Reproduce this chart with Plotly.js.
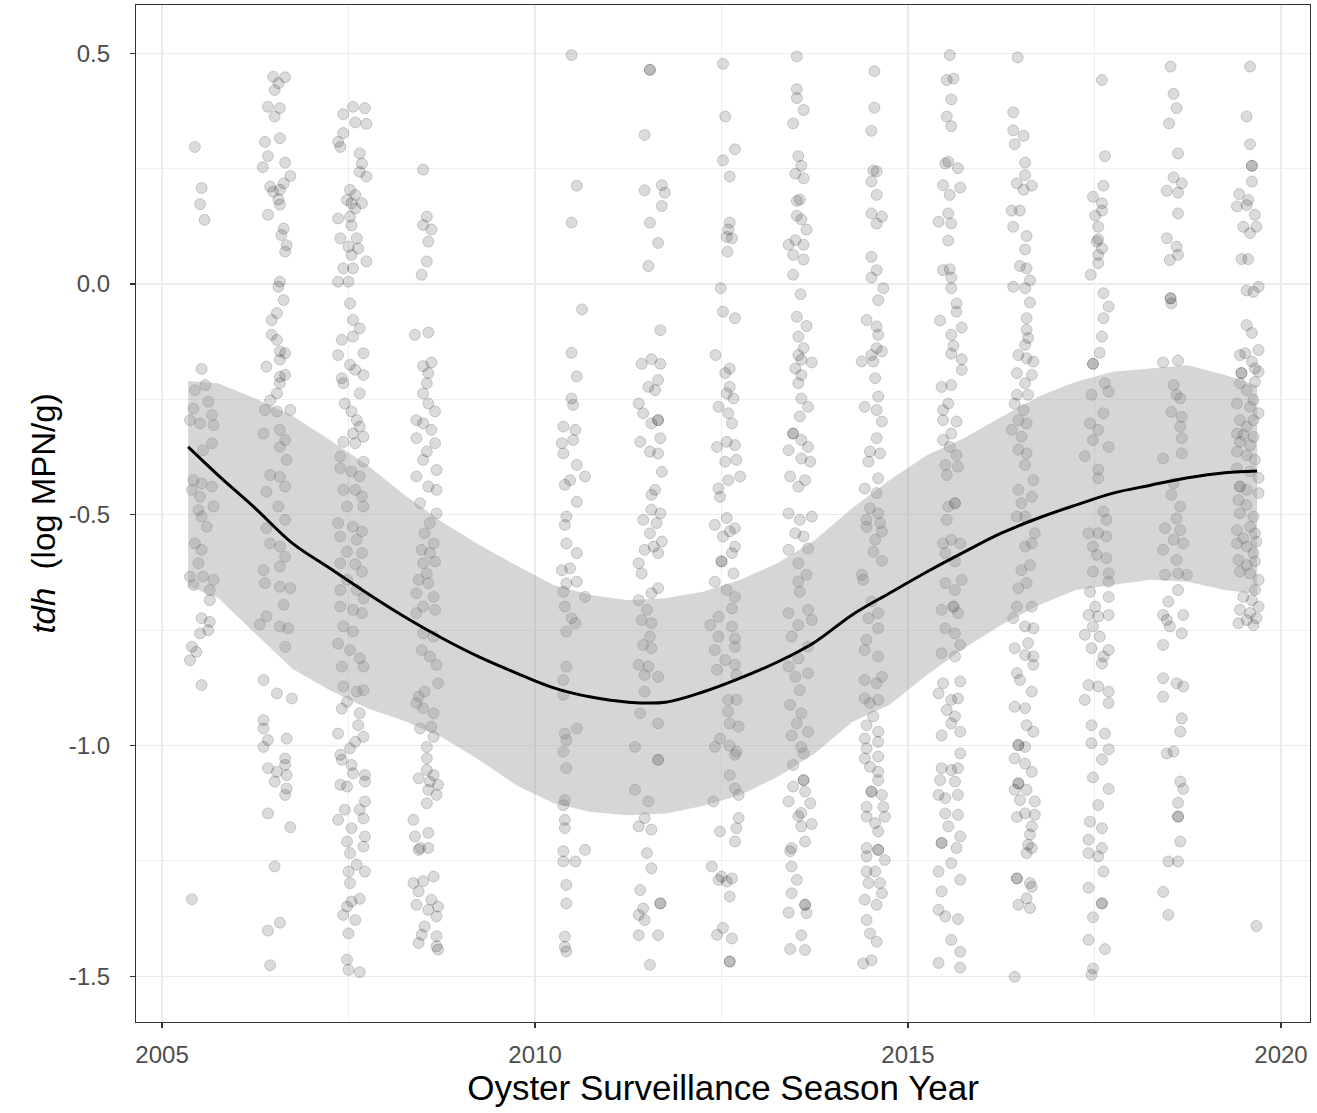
<!DOCTYPE html>
<html>
<head>
<meta charset="utf-8">
<script src="https://cdn.plot.ly/plotly-3.0.1.min.js"></script>
<style>html,body{margin:0;padding:0;background:#fff;}#chart{width:1317px;height:1113px;}</style>
</head>
<body>
<div id="chart"></div>
<script>
// Sampling seasons (year) and per-season observations: [offset within season year, tdh log MPN/g]
const seasons = [2005, 2006, 2007, 2008, 2010, 2011, 2012, 2013, 2014, 2015, 2016, 2017, 2018, 2019];

const pts2005 = [[.44,.297],[.53,.208],[.51,.173],[.57,.139],[.53,-.184],
[.44,-.23],[.58,-.219],[.62,-.255],[.42,-.27],[.375,-.295],[.51,-.302],[.67,-.284],[.69,-.306],[.67,-.345],[.55,-.36],
[.42,-.425],[.53,-.432],[.67,-.439],[.40,-.446],[.51,-.461],[.69,-.482],[.49,-.49],[.53,-.504],[.60,-.526],[.44,-.562],
[.53,-.576],[.49,-.605],[.375,-.634],[.55,-.634],[.69,-.641],[.42,-.652],[.64,-.663],[.64,-.685],[.53,-.724],[.64,-.732],
[.51,-.757],[.62,-.75],[.40,-.786],[.46,-.797],[.375,-.815],[.53,-.869],[.40,-1.333]];

const pts2006 = [[.49,.449],[.65,.448],[.56,.435],[.51,.42],[.42,.384],[.58,.381],[.51,.363],[.38,.308],[.58,.316],[.42,.277],
[.65,.263],[.35,.253],[.72,.234],[.45,.211],[.63,.218],[.49,.2],[.58,.204],[.56,.183],[.42,.15],[.58,.172],[.63,.12],[.60,.106],
[.67,.084],[.65,.07],[.58,.005],[.56,-.006],[.63,-.035],[.54,-.063],[.47,-.078],[.47,-.11],[.54,-.121],[.58,-.146],[.65,-.15],
[.40,-.179],[.58,-.164],[.65,-.197],[.58,-.201],
[.58,-.215],[.54,-.237],[.45,-.252],[.38,-.273],[.54,-.276],[.72,-.273],[.58,-.316],[.36,-.324],[.65,-.338],[.58,-.353],
[.67,-.381],[.45,-.414],[.58,-.418],[.40,-.45],[.65,-.439],[.56,-.482],[.65,-.511],[.40,-.529],[.45,-.562],[.58,-.569],
[.65,-.591],[.36,-.62],[.58,-.612],[.38,-.648],[.58,-.656],[.72,-.659],[.63,-.695],[.40,-.72],[.31,-.738],[.58,-.742],
[.69,-.746],[.65,-.786],[.36,-.858],[.54,-.887],[.74,-.898],
[.36,-.945],[.36,-.963],[.42,-.988],[.67,-.985],[.36,-1.003],[.65,-1.028],[.65,-1.042],[.42,-1.049],[.54,-1.057],[.67,-1.064],
[.51,-1.078],[.67,-1.093],[.65,-1.107],[.42,-1.147],[.72,-1.177],[.51,-1.262],[.58,-1.384],[.42,-1.401],[.45,-1.476]];

const pts2007 = [[.56,.384],[.72,.381],[.43,.368],[.59,.35],[.74,.347],[.43,.327],[.36,.308],[.39,.297],[.65,.283],[.68,.261],
[.65,.243],[.74,.233],[.52,.204],[.59,.193],[.48,.182],[.54,.175],[.68,.175],[.59,.164],[.36,.142],[.52,.146],[.54,.127],
[.39,.099],[.61,.099],[.50,.081],[.63,.077],[.54,.063],[.74,.049],[.43,.034],[.56,.034],[.36,.005],[.50,.005],[.52,-.042],
[.56,-.078],[.65,-.096],[.41,-.121],[.56,-.114],[.36,-.154],[.70,-.15],[.52,-.175],[.59,-.186],[.70,-.197],[.41,-.204],
[.43,-.215],[.65,-.237],[.45,-.259],[.54,-.276],[.61,-.295],[.65,-.309],[.56,-.324],[.70,-.331],[.43,-.342],[.59,-.345],
[.39,-.374],[.70,-.385],[.39,-.399],[.54,-.406],[.65,-.417],[.43,-.446],[.59,-.446],[.68,-.46],[.48,-.482],[.70,-.482],
[.36,-.518],[.56,-.526],[.68,-.536],[.39,-.547],[.61,-.554],[.48,-.58],[.68,-.583],[.39,-.605],[.59,-.607],[.68,-.623],
[.48,-.641],[.39,-.663],[.61,-.663],[.70,-.681],[.39,-.699],[.56,-.706],[.68,-.713],[.43,-.742],[.56,-.753],[.36,-.779],
[.52,-.793],[.65,-.811],[.41,-.829],[.70,-.829],[.43,-.872],[.61,-.883],[.70,-.88],[.48,-.905],[.41,-.92],[.65,-.93],
[.63,-.956],[.36,-.974],[.70,-.981],[.59,-.992],[.52,-1.006],[.39,-1.02],[.41,-1.031],[.54,-1.042],[.56,-1.06],[.72,-1.064],
[.72,-1.078],[.39,-1.085],[.48,-1.089],[.72,-1.121],[.65,-1.139],[.45,-1.139],[.70,-1.158],[.36,-1.161],[.54,-1.179],
[.72,-1.197],[.48,-1.208],[.70,-1.219],[.52,-1.233],[.61,-1.258],[.50,-1.273],[.72,-1.273],[.52,-1.298],[.54,-1.338],
[.65,-1.332],[.48,-1.349],[.43,-1.367],[.59,-1.378],[.50,-1.407],[.48,-1.464],[.50,-1.486],[.65,-1.491]];

const pts2008 = [[.50,.248],[.55,.146],[.50,.128],[.61,.118],[.57,.092],[.55,.049],[.48,.02],[.39,-.11],[.57,-.105],[.50,-.178],
[.61,-.17],[.57,-.193],
[.55,-.215],[.50,-.237],[.57,-.259],[.66,-.276],[.41,-.295],[.50,-.302],[.61,-.316],[.41,-.334],[.66,-.345],[.55,-.363],
[.50,-.381],[.68,-.403],[.41,-.417],[.57,-.439],[.68,-.446],[.46,-.475],[.68,-.497],[.59,-.518],[.52,-.54],[.64,-.562],
[.48,-.576],[.59,-.583],[.50,-.605],[.66,-.601],[.55,-.627],[.44,-.641],[.57,-.648],[.41,-.67],[.64,-.678],[.50,-.699],
[.41,-.713],[.66,-.706],[.50,-.757],[.64,-.764],[.48,-.793],[.59,-.807],[.68,-.825],[.70,-.865],[.52,-.883],[.44,-.894],
[.41,-.908],[.50,-.919],[.64,-.93],
[.61,-.959],[.46,-.963],[.64,-.981],[.55,-1.003],[.55,-1.028],[.55,-1.053],[.64,-1.064],[.44,-1.071],[.59,-1.078],[.70,-1.085],
[.57,-1.096],[.68,-1.107],[.55,-1.125],[.37,-1.161],[.39,-1.197],[.57,-1.189],[.46,-1.222],[.57,-1.222],[.44,-1.226],
[.37,-1.298],[.50,-1.294],[.64,-1.284],[.44,-1.316],[.61,-1.334],[.41,-1.345],[.70,-1.349],[.57,-1.356],[.68,-1.37],
[.52,-1.392],[.48,-1.41],[.68,-1.413],[.44,-1.428],[.68,-1.435],[.70,-1.442]];

const pts2010 = [[.49,.496],[.56,.213],[.49,.133],[.63,-.055],[.49,-.149],[.56,-.2],
[.49,-.248],[.51,-.262],[.38,-.309],[.54,-.316],[.51,-.338],[.36,-.345],[.38,-.367],[.56,-.392],[.67,-.417],[.47,-.425],
[.40,-.435],[.56,-.472],[.42,-.504],[.40,-.522],[.42,-.562],[.56,-.583],[.36,-.62],[.47,-.616],[.56,-.645],[.42,-.649],
[.38,-.667],[.67,-.678],[.40,-.699],[.49,-.724],[.54,-.735],[.42,-.753],[.42,-.829],[.38,-.858],[.38,-.89],
[.56,-.963],[.40,-.974],[.42,-.988],[.38,-1.013],[.42,-1.049],[.40,-1.118],[.38,-1.129],[.40,-1.161],[.40,-1.179],
[.38,-1.229],[.67,-1.226],[.38,-1.251],[.54,-1.251],[.42,-1.302],[.42,-1.342],[.40,-1.414],[.40,-1.436],[.42,-1.446]];

const pts2011 = [[.54,.464],[.54,.464],[.47,.323],[.70,.214],[.47,.203],[.74,.198],[.70,.169],[.54,.133],[.65,.089],[.52,.039],
[.68,-.1],[.56,-.163],[.43,-.173],[.68,-.173],[.65,-.208],
[.52,-.223],[.61,-.23],[.39,-.259],[.45,-.28],[.65,-.295],[.65,-.295],[.56,-.302],[.68,-.334],[.41,-.342],[.54,-.363],
[.65,-.367],[.70,-.407],[.61,-.446],[.56,-.457],[.56,-.489],[.68,-.497],[.45,-.511],[.63,-.518],[.54,-.54],[.70,-.558],
[.59,-.569],[.47,-.576],[.65,-.583],[.39,-.605],[.43,-.627],[.65,-.659],[.56,-.67],[.39,-.685],[.50,-.706],[.43,-.728],
[.56,-.735],[.54,-.764],[.45,-.782],[.56,-.789],[.39,-.825],[.52,-.829],[.47,-.847],[.65,-.851],[.47,-.883],[.41,-.93],
[.65,-.952],[.34,-1.003],[.65,-1.031],[.65,-1.031],[.34,-1.096],[.52,-1.121],[.47,-1.157],[.39,-1.175],[.56,-1.182],
[.50,-1.233],[.56,-1.266],[.41,-1.313],[.68,-1.342],[.68,-1.342],[.45,-1.353],[.39,-1.367],[.47,-1.378],[.39,-1.411],
[.65,-1.411],[.54,-1.475]];

const pts2012 = [[.52,.477],[.55,.363],[.68,.292],[.52,.268],[.61,.233],[.61,.133],[.59,.118],[.64,.099],[.57,.102],[.58,.07],
[.49,-.009],[.52,-.06],[.68,-.074],[.42,-.154],[.61,-.183],[.55,-.193],
[.61,-.223],[.57,-.237],[.66,-.248],[.46,-.266],[.59,-.28],[.64,-.302],[.57,-.342],[.44,-.353],[.68,-.349],[.55,-.385],
[.70,-.381],[.59,-.425],[.75,-.417],[.46,-.443],[.48,-.461],[.41,-.522],[.57,-.507],[.68,-.529],[.61,-.536],[.52,-.547],
[.68,-.569],[.64,-.583],[.50,-.601],[.50,-.601],[.66,-.627],[.41,-.645],[.57,-.663],[.68,-.678],[.64,-.703],[.46,-.721],
[.35,-.739],[.64,-.742],[.46,-.764],[.68,-.768],[.41,-.793],[.68,-.786],[.55,-.815],[.68,-.825],[.44,-.836],[.70,-.847],
[.59,-.901],[.70,-.901],[.59,-.926],
[.61,-.952],[.73,-.959],[.48,-.985],[.41,-1.003],[.61,-1.0],[.70,-1.013],[.68,-1.02],[.61,-1.064],[.68,-1.093],[.73,-1.107],
[.39,-1.121],[.73,-1.157],[.48,-1.186],[.70,-1.179],[.68,-1.208],[.37,-1.262],[.50,-1.284],[.64,-1.288],[.46,-1.291],
[.57,-1.295],[.61,-1.327],[.52,-1.395],[.44,-1.41],[.64,-1.418],[.61,-1.468],[.61,-1.468]];

const pts2013 = [[.51,.493],[.51,.422],[.51,.403],[.60,.377],[.46,.348],[.53,.277],[.57,.256],[.49,.239],[.60,.229],[.55,.183],
[.51,.18],[.51,.148],[.57,.14],[.64,.118],[.49,.095],[.40,.085],[.60,.085],[.46,.063],[.60,.053],[.46,.02],[.56,-.022],
[.51,-.071],[.64,-.091],[.53,-.114],[.60,-.139],[.53,-.154],[.57,-.164],[.71,-.17],[.49,-.183],[.57,-.197],
[.53,-.215],[.57,-.248],[.66,-.266],[.55,-.287],[.46,-.324],[.46,-.324],[.57,-.338],[.66,-.353],[.40,-.36],[.57,-.378],
[.69,-.385],[.42,-.417],[.62,-.425],[.53,-.439],[.40,-.497],[.55,-.511],[.71,-.504],[.49,-.54],[.60,-.547],[.40,-.576],
[.66,-.573],[.53,-.605],[.64,-.63],[.53,-.645],[.55,-.667],[.40,-.713],[.66,-.706],[.53,-.739],[.71,-.728],[.44,-.764],
[.66,-.786],[.53,-.811],[.40,-.829],[.49,-.851],[.66,-.843],[.55,-.88],[.42,-.912],[.57,-.93],
[.51,-.952],[.66,-.97],[.44,-.978],[.57,-1.003],[.60,-1.017],[.46,-1.042],[.60,-1.075],[.60,-1.075],[.46,-1.089],[.62,-1.1],
[.40,-1.121],[.69,-1.125],[.57,-1.146],[.53,-1.153],[.71,-1.17],[.57,-1.175],[.62,-1.208],[.44,-1.222],[.42,-1.229],
[.44,-1.262],[.51,-1.291],[.44,-1.32],[.62,-1.345],[.62,-1.345],[.64,-1.363],[.40,-1.362],[.57,-1.411],[.42,-1.441],[.62,-1.443]];

const pts2014 = [[.55,.461],[.55,.382],[.51,.332],[.535,.246],[.58,.244],[.51,.222],[.58,.193],[.51,.153],[.65,.146],[.58,.131],
[.51,.059],[.58,.03],[.51,.014],[.67,-.009],[.60,-.035],[.445,-.078],[.58,-.092],[.60,-.11],[.58,-.139],[.65,-.146],
[.51,-.154],[.38,-.168],[.535,-.168],[.56,-.204],
[.60,-.244],[.42,-.266],[.58,-.273],[.65,-.298],[.58,-.334],[.49,-.363],[.625,-.367],[.47,-.385],[.60,-.421],[.42,-.443],
[.58,-.453],[.49,-.486],[.60,-.497],[.445,-.511],[.625,-.518],[.445,-.526],[.65,-.536],[.56,-.554],[.535,-.58],[.65,-.6],
[.38,-.63],[.40,-.641],[.51,-.688],[.60,-.713],[.47,-.724],[.60,-.746],[.445,-.771],[.42,-.793],[.60,-.807],[.42,-.858],
[.65,-.851],[.58,-.865],[.42,-.898],[.60,-.901],[.49,-.908],[.535,-.937],
[.445,-.956],[.60,-.97],[.42,-.985],[.60,-.992],[.445,-1.006],[.42,-1.028],[.60,-1.024],[.49,-1.046],[.60,-1.057],
[.60,-1.075],[.51,-1.1],[.51,-1.1],[.65,-1.107],[.445,-1.133],[.67,-1.133],[.445,-1.154],[.69,-1.154],[.56,-1.168],
[.60,-1.186],[.445,-1.222],[.60,-1.226],[.60,-1.226],[.445,-1.24],[.69,-1.248],[.445,-1.273],[.56,-1.273],[.47,-1.298],
[.625,-1.298],[.65,-1.32],[.42,-1.334],[.58,-1.345],[.445,-1.378],[.49,-1.407],[.58,-1.425],[.40,-1.472],[.51,-1.465]];

const pts2015 = [[.56,.496],[.52,.442],[.61,.445],[.58,.4],[.52,.363],[.58,.342],[.50,.261],[.54,.265],[.67,.251],[.47,.214],
[.70,.209],[.56,.193],[.54,.153],[.41,.135],[.58,.131],[.54,.094],[.47,.03],[.56,.032],[.58,.014],[.58,-.009],[.65,-.042],
[.65,-.06],[.43,-.079],[.72,-.094],[.58,-.11],[.61,-.134],[.58,-.151],[.72,-.163],[.72,-.186],
[.45,-.223],[.58,-.219],[.54,-.259],[.47,-.273],[.47,-.295],[.65,-.298],[.58,-.324],[.47,-.338],[.56,-.353],[.65,-.371],
[.50,-.392],[.67,-.396],[.52,-.414],[.63,-.475],[.63,-.475],[.54,-.482],[.52,-.511],[.47,-.562],[.58,-.554],[.70,-.562],
[.50,-.583],[.63,-.601],[.72,-.641],[.50,-.648],[.63,-.663],[.61,-.699],[.61,-.699],[.45,-.706],[.67,-.713],[.50,-.746],
[.63,-.757],[.70,-.782],[.45,-.8],[.63,-.807],[.70,-.861],[.47,-.865],[.41,-.887],[.58,-.901],[.67,-.898],[.52,-.923],[.63,-.937],
[.58,-.952],[.70,-.97],[.45,-.978],[.70,-1.017],[.45,-1.049],[.67,-1.049],[.58,-1.053],[.43,-1.075],[.63,-1.078],[.41,-1.107],
[.50,-1.114],[.67,-1.107],[.50,-1.147],[.67,-1.15],[.54,-1.175],[.70,-1.197],[.45,-1.211],[.45,-1.211],[.65,-1.222],
[.58,-1.255],[.41,-1.273],[.70,-1.291],[.45,-1.316],[.41,-1.356],[.50,-1.37],[.67,-1.376],[.58,-1.421],[.70,-1.447],
[.41,-1.471],[.70,-1.481]];

const pts2016 = [[.47,.491],[.41,.372],[.41,.333],[.55,.321],[.43,.303],[.57,.263],[.57,.236],[.46,.218],[.66,.213],[.55,.204],
[.39,.159],[.50,.159],[.41,.124],[.59,.104],[.57,.075],[.50,.039],[.59,.034],[.41,-.006],[.57,-.009],[.635,.008],[.635,-.04],
[.59,-.074],[.59,-.099],[.61,-.117],[.57,-.132],[.48,-.154],[.59,-.161],[.68,-.168],[.46,-.193],[.66,-.197],
[.57,-.215],[.46,-.24],[.61,-.24],[.43,-.259],[.55,-.273],[.48,-.295],[.59,-.302],[.39,-.316],[.52,-.331],[.48,-.359],
[.59,-.367],[.57,-.392],[.68,-.425],[.48,-.446],[.66,-.461],[.52,-.475],[.46,-.504],[.57,-.504],[.70,-.54],[.57,-.569],
[.66,-.562],[.52,-.62],[.635,-.609],[.48,-.659],[.59,-.648],[.46,-.699],[.66,-.699],[.41,-.724],[.57,-.742],[.68,-.746],
[.61,-.778],[.43,-.789],[.57,-.804],[.68,-.807],[.68,-.825],[.46,-.843],[.50,-.858],[.66,-.883],[.43,-.916],[.57,-.919],
[.59,-.956],[.68,-.97],[.48,-.999],[.48,-.999],[.57,-1.003],[.43,-1.028],[.57,-1.039],[.66,-1.057],[.48,-1.082],[.48,-1.082],
[.59,-1.096],[.43,-1.096],[.50,-1.118],[.70,-1.121],[.57,-1.147],[.70,-1.15],[.46,-1.155],[.66,-1.175],[.635,-1.193],
[.61,-1.215],[.66,-1.222],[.59,-1.233],[.46,-1.288],[.46,-1.288],[.635,-1.298],[.66,-1.306],[.59,-1.331],[.48,-1.345],
[.635,-1.352],[.43,-1.501]];

const pts2017 = [[.60,.442],[.64,.277],[.62,.213],[.48,.189],[.60,.175],[.60,.159],[.51,.148],[.55,.124],[.55,.097],[.53,.092],
[.60,.077],[.55,.063],[.55,.045],[.45,.02],[.62,-.02],[.69,-.049],[.62,-.074],[.60,-.114],[.57,-.149],[.48,-.173],[.48,-.173],
[.64,-.215],[.69,-.233],[.46,-.24],[.62,-.28],[.44,-.302],[.55,-.316],[.48,-.338],[.69,-.353],[.37,-.373],[.55,-.402],
[.55,-.421],[.62,-.493],[.66,-.511],[.42,-.54],[.55,-.54],[.66,-.547],[.48,-.569],[.53,-.587],[.66,-.594],[.48,-.623],
[.69,-.627],[.69,-.645],[.44,-.667],[.69,-.678],[.51,-.699],[.42,-.717],[.55,-.72],[.69,-.717],[.48,-.742],[.37,-.76],
[.57,-.764],[.46,-.789],[.69,-.793],[.62,-.807],[.60,-.822],[.42,-.869],[.55,-.872],[.69,-.883],[.37,-.901],[.69,-.908],
[.46,-.956],[.64,-.974],[.46,-.995],[.69,-1.008],[.60,-1.03],[.48,-1.069],[.69,-1.094],[.55,-1.129],[.44,-1.165],[.60,-1.179],
[.42,-1.204],[.60,-1.222],[.42,-1.233],[.55,-1.24],[.62,-1.273],[.42,-1.308],[.60,-1.342],[.60,-1.342],[.48,-1.372],
[.42,-1.421],[.64,-1.441],[.48,-1.483],[.46,-1.497]];

const pts2018 = [[.52,.471],[.56,.412],[.60,.381],[.50,.348],[.62,.283],[.56,.231],[.67,.218],[.47,.202],[.62,.198],[.62,.153],
[.47,.099],[.60,.081],[.62,.063],[.51,.052],[.52,-.031],[.52,-.031],[.53,-.042],[.42,-.17],[.62,-.166],
[.56,-.219],[.60,-.24],[.65,-.248],[.53,-.277],[.67,-.288],[.65,-.309],[.67,-.334],[.67,-.367],[.42,-.378],[.56,-.432],
[.53,-.457],[.65,-.482],[.60,-.508],[.445,-.529],[.65,-.533],[.56,-.554],[.69,-.562],[.42,-.576],[.60,-.598],[.445,-.63],
[.62,-.627],[.74,-.63],[.62,-.663],[.49,-.688],[.69,-.717],[.42,-.717],[.47,-.728],[.51,-.742],[.67,-.757],[.42,-.782],
[.42,-.854],[.60,-.865],[.69,-.872],[.42,-.894],[.67,-.941],
[.65,-.97],[.47,-1.017],[.56,-1.013],[.65,-1.078],[.69,-1.094],[.62,-1.124],[.62,-1.154],[.62,-1.154],[.65,-1.208],
[.49,-1.251],[.62,-1.251],[.42,-1.317],[.49,-1.367]];

const pts2019 = [[.585,.471],[.54,.363],[.585,.303],[.61,.256],[.61,.256],[.61,.222],[.44,.195],[.56,.182],[.41,.168],[.54,.171],
[.65,.15],[.495,.124],[.67,.124],[.585,.11],[.47,.054],[.56,.054],[.54,-.014],[.70,-.006],[.63,-.017],[.54,-.089],[.61,-.106],
[.45,-.154],[.52,-.15],[.70,-.143],[.61,-.168],[.65,-.183],[.47,-.193],[.47,-.193],[.70,-.19],
[.45,-.215],[.65,-.212],[.54,-.23],[.41,-.259],[.63,-.251],[.585,-.266],[.70,-.28],[.45,-.295],[.63,-.295],[.54,-.309],
[.41,-.324],[.495,-.327],[.63,-.331],[.45,-.342],[.585,-.349],[.41,-.363],[.54,-.371],[.65,-.381],[.41,-.399],[.585,-.406],
[.70,-.42],[.45,-.439],[.45,-.439],[.54,-.446],[.70,-.453],[.43,-.468],[.54,-.479],[.45,-.497],[.63,-.504],[.41,-.533],
[.585,-.526],[.65,-.54],[.495,-.551],[.41,-.562],[.67,-.558],[.54,-.569],[.63,-.583],[.43,-.598],[.54,-.609],[.65,-.601],
[.45,-.623],[.585,-.627],[.70,-.641],[.65,-.663],[.495,-.678],[.61,-.685],[.70,-.699],[.45,-.706],[.585,-.713],[.54,-.728],
[.67,-.724],[.43,-.735],[.63,-.739],[.67,-1.391]];

const seasonPoints = [pts2005, pts2006, pts2007, pts2008, pts2010, pts2011, pts2012, pts2013, pts2014, pts2015, pts2016, pts2017, pts2018, pts2019];

// Smoothed (loess) fit and its confidence band
const fitX = [2005.35,2005.75,2006.25,2006.75,2007.25,2007.75,2008.25,2008.75,2009.25,2009.75,2010.25,2010.75,2011.25,2011.75,
2012.25,2012.75,2013.25,2013.75,2014.25,2014.75,2015.25,2015.75,2016.25,2016.75,2017.25,2017.75,2018.25,2018.75,2019.25,2019.68];
const fitY = [-0.353,-0.414,-0.486,-0.562,-0.616,-0.670,-0.721,-0.767,-0.808,-0.843,-0.875,-0.895,-0.906,-0.906,
-0.884,-0.854,-0.819,-0.776,-0.717,-0.670,-0.624,-0.581,-0.540,-0.507,-0.479,-0.453,-0.436,-0.420,-0.409,-0.405];
const fitUpper = [-0.210,-0.215,-0.248,-0.286,-0.338,-0.392,-0.457,-0.515,-0.565,-0.610,-0.652,-0.674,-0.685,-0.681,
-0.667,-0.641,-0.605,-0.555,-0.486,-0.425,-0.371,-0.334,-0.288,-0.244,-0.212,-0.190,-0.183,-0.176,-0.197,-0.220];
const fitLower = [-0.655,-0.680,-0.757,-0.834,-0.880,-0.919,-0.947,-0.982,-1.031,-1.086,-1.125,-1.144,-1.151,-1.147,
-1.131,-1.107,-1.068,-1.017,-0.949,-0.912,-0.847,-0.789,-0.739,-0.696,-0.663,-0.652,-0.641,-0.645,-0.663,-0.672];

const xTicks = [2005, 2010, 2015, 2020];
const yTicks = [-1.5, -1.0, -0.5, 0.0, 0.5];
const yTickText = ['-1.5', '-1.0', '-0.5', '0.0', '0.5'];

const px = [], py = [];
seasons.forEach((s, i) => {
  seasonPoints[i].forEach(p => { px.push(s + p[0]); py.push(p[1]); });
});

const FONT = 'Liberation Sans, Arial, sans-serif';

const traces = [
  {type:'scatter', mode:'markers', x:px, y:py, hoverinfo:'skip',
   marker:{size:11, color:'rgba(0,0,0,0.14)', line:{color:'rgba(0,0,0,0.17)', width:1}}},
  {type:'scatter', mode:'lines', x:fitX, y:fitLower, line:{width:0, color:'rgba(0,0,0,0)'}, hoverinfo:'skip'},
  {type:'scatter', mode:'lines', x:fitX, y:fitUpper, fill:'tonexty', fillcolor:'rgba(153,153,153,0.4)',
   line:{width:0, color:'rgba(0,0,0,0)'}, hoverinfo:'skip'},
  {type:'scatter', mode:'lines', x:fitX, y:fitY, line:{color:'#000', width:3, shape:'spline'}, hoverinfo:'skip'}
];

const layout = {
  width:1317, height:1113,
  margin:{l:136, r:7, t:5, b:91},
  paper_bgcolor:'#fff', plot_bgcolor:'#fff',
  showlegend:false,
  font:{family:FONT},
  xaxis:{
    range:[2004.651, 2020.389], tickmode:'array', tickvals:xTicks, ticktext:xTicks.map(String),
    ticks:'outside', ticklen:5, tickwidth:1.1, tickcolor:'#333',
    showline:true, mirror:true, linecolor:'#333', linewidth:1.1,
    showgrid:true, gridcolor:'#ebebeb', gridwidth:1.3, zeroline:false,
    minor:{tickmode:'array', tickvals:[2007.5, 2012.5, 2017.5], showgrid:true, gridcolor:'#ebebeb', gridwidth:0.8, ticks:''},
    tickfont:{family:FONT, size:24, color:'#4d4d4d'}, ticklabelstandoff:6,
    title:{text:'Oyster Surveillance Season Year', font:{family:FONT, size:35, color:'#000'}, standoff:2}
  },
  yaxis:{
    range:[-1.599, 0.6045], tickmode:'array', tickvals:yTicks, ticktext:yTickText,
    ticks:'outside', ticklen:5, tickwidth:1.1, tickcolor:'#333',
    showline:true, mirror:true, linecolor:'#333', linewidth:1.1,
    showgrid:true, gridcolor:'#ebebeb', gridwidth:1.3, zeroline:false,
    minor:{tickmode:'array', tickvals:[-1.25, -0.75, -0.25, 0.25], showgrid:true, gridcolor:'#ebebeb', gridwidth:0.8, ticks:''},
    tickfont:{family:FONT, size:24, color:'#4d4d4d'}, ticklabelstandoff:15,
    title:{text:'<i>tdh</i>  (log MPN/g)', font:{family:FONT, size:33, color:'#000'}, standoff:3}
  }
};

Plotly.newPlot('chart', traces, layout, {displayModeBar:false, staticPlot:true});
</script>
</body>
</html>
